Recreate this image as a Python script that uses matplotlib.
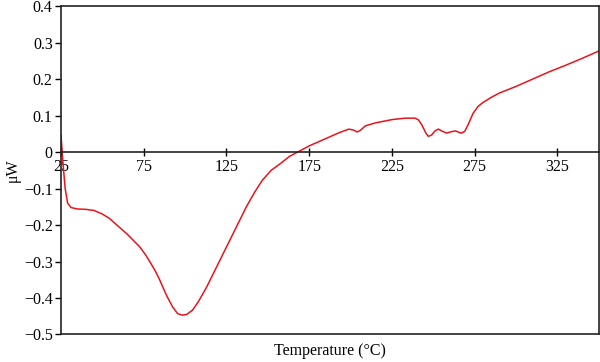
import matplotlib
matplotlib.use('Agg')
import matplotlib.pyplot as plt

# DSC-like trace
temperature = [25, 26, 27.5, 29, 31, 35, 40, 45, 50, 54, 57.5, 61, 65, 68.5, 72.6, 76,
               79, 82, 84.6, 87, 89, 92.5, 95.5, 98.3, 101, 104.5, 108, 113, 119, 125,
               131, 137, 142, 146.7, 152, 158, 163, 168, 175, 185, 193, 199, 202, 204,
               206, 209, 215, 225, 233, 239, 241, 243, 245.5, 247, 249, 251, 253, 255,
               258, 261, 263.5, 265.5, 267, 269, 271, 274, 277, 280, 285, 290, 300,
               310, 320, 330, 340, 350]
heat_flow = [0.045, -0.02, -0.1, -0.14, -0.152, -0.156, -0.157, -0.16, -0.17, -0.181,
             -0.195, -0.209, -0.225, -0.241, -0.26, -0.281, -0.303, -0.326, -0.35,
             -0.375, -0.395, -0.425, -0.443, -0.447, -0.445, -0.433, -0.41, -0.37,
             -0.315, -0.26, -0.205, -0.15, -0.11, -0.077, -0.05, -0.03, -0.012, 0.0,
             0.017, 0.037, 0.053, 0.063, 0.06, 0.055, 0.06, 0.072, 0.08, 0.089, 0.093,
             0.093, 0.088, 0.075, 0.052, 0.043, 0.047, 0.058, 0.063, 0.058, 0.052,
             0.056, 0.058, 0.054, 0.052, 0.057, 0.075, 0.106, 0.125, 0.136, 0.15,
             0.162, 0.18, 0.2, 0.22, 0.238, 0.257, 0.277]

x_ticks = [25, 75, 125, 175, 225, 275, 325]
y_ticks = [-0.5, -0.4, -0.3, -0.2, -0.1, 0, 0.1, 0.2, 0.3, 0.4]
y_labels = ['\u22120.5', '\u22120.4', '\u22120.3', '\u22120.2', '\u22120.1',
            '0', '0.1', '0.2', '0.3', '0.4']

plt.rcParams['font.family'] = ['Liberation Serif', 'DejaVu Serif']

fig = plt.figure(figsize=(6, 3.62), dpi=100)
ax = fig.add_axes([0.1017, 0.076, 0.8963, 0.907])

ax.plot(temperature, heat_flow, color='#e8141c', lw=1.1)

ax.set_xlim(25, 350)
ax.set_ylim(-0.5, 0.4)

# x axis sits on y=0, frame closed with a line at the bottom
ax.spines['bottom'].set_position(('data', 0))
ax.axhline(-0.5, color='#222222', lw=1.2, clip_on=False)
for s in ax.spines.values():
    s.set_color('#222222')
    s.set_linewidth(1.2)

ax.set_xticks(x_ticks)
ax.set_yticks(y_ticks)
ax.set_yticklabels(y_labels)
ax.tick_params(axis='x', direction='inout', length=6, width=1, pad=2, labelsize=11.5)
ax.tick_params(axis='y', direction='out', length=4, width=1, pad=2, labelsize=11.5)

ax.set_ylabel('\u03bcW', fontsize=11.5, labelpad=2)
fig.text(0.55, 0.008, 'Temperature (\u00b0C)', ha='center', va='bottom', fontsize=11.5)

fig.savefig('out.png', dpi=100)
